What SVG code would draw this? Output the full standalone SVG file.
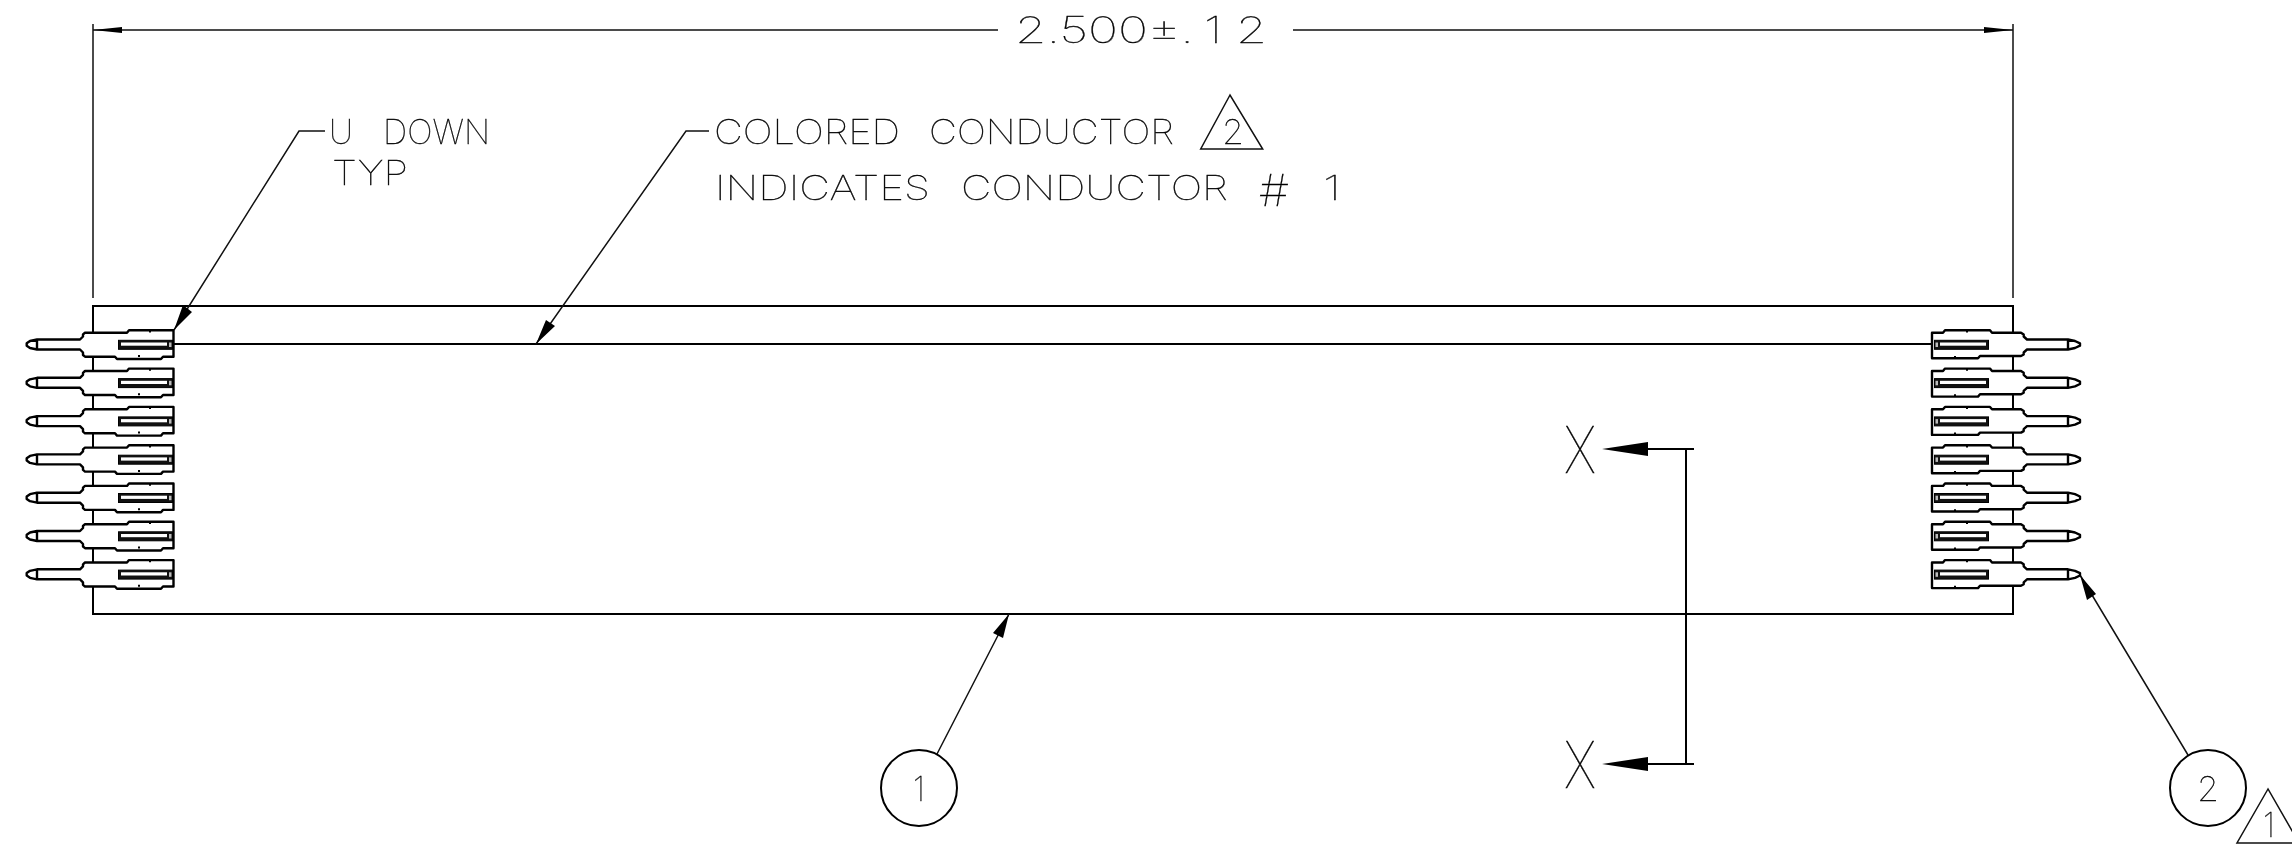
<svg xmlns="http://www.w3.org/2000/svg" xmlns:xlink="http://www.w3.org/1999/xlink" width="2292" height="845" viewBox="0 0 2292 845">
<style>
.l{fill:none;stroke:#000;stroke-width:2}
.t{fill:none;stroke:#111;stroke-width:1.5}
.b{fill:#fff;stroke:#000;stroke-width:2.4;stroke-linejoin:round}
.h{fill:#000;stroke:none}
text{font-family:"Inter","Liberation Sans",sans-serif;font-weight:100;fill:#000;stroke:#000;stroke-width:.3;font-size:34px;filter:url(#gs)}
</style>
<defs>
<filter id="gs" x="-20%" y="-20%" width="140%" height="140%" color-interpolation-filters="sRGB"><feOffset dx="0" dy="0"/></filter>
<g id="connL">
<path class="b" d="M37-5 30-3.5 26.7-1.2V1.2L30 3.5 37 5H80L83 8V10.5L85 12.2H115L117 14.5H161L163 12.2H173.5V-14.2H129L127-11.8H85L83-10V-8L80-5ZM37-5V5"/>
<path class="l" d="M150-14V-12M139 12.5V10.5"/>
<rect x="118.5" y="-4.2" width="54" height="9" fill="#111" stroke="#000"/>
<rect x="121" y="-2" width="46" height="3.2" fill="#fff"/>
<rect x="169" y="-2" width="2.5" height="4.5" fill="#bbb"/>
</g>
<g id="connR">
<path class="b" d="M2068-5 2075-3.5 2080-1.2V1.2L2075 3.5 2068 5H2027L2023.7 8V10L2021 11.5H1980L1978 13.8H1932V-11.8H1943L1945-14.2H1990L1992-11.8H2021L2023.7-10V-8L2027-5ZM2068-5V5"/>
<path class="l" d="M1967-14V-12M1955 13.5V11.5"/>
<rect x="1934.5" y="-4.2" width="54" height="9" fill="#111" stroke="#000"/>
<rect x="1940" y="-2" width="46" height="3.2" fill="#fff"/>
<rect x="1935.5" y="-2" width="2.5" height="4.5" fill="#bbb"/>
</g>
</defs>
<g id="connectors">
<path class="t" d="M93 24V298M2013 24V298M93 30H998M1293 30H2013"/>
<path class="h" d="M93 30 122 27V33ZM2013 30 1984 27V33Z"/>
<path class="l" d="M93 614V306H2013V614ZM174 344H1932"/>
<path class="t" d="M174 330 299 131H325M536 344 686 131H709"/>
<path class="h" d="M174 330 183 305 192 312ZM536 344 546 320 555 326Z"/>
<path class="t" d="M1009 614 937 754M2080 575 2188 755"/>
<path class="h" d="M1009 614 1003 638 993 633ZM2080 575 2096 594 2087 600Z"/>
<path class="l" d="M1694 449H1648M1694 764H1648M1686 449V764"/>
<path class="h" d="M1602 449 1648 442V456ZM1602 764 1648 757V771Z"/>
</g>
<g id="connectors-left">
<use id="c1" xlink:href="#connL" href="#connL" y="344.5"/>
<use id="c2" xlink:href="#connL" href="#connL" y="382.8"/>
<use id="c3" xlink:href="#connL" href="#connL" y="421.1"/>
<use id="c4" xlink:href="#connL" href="#connL" y="459.4"/>
<use id="c5" xlink:href="#connL" href="#connL" y="497.7"/>
<use id="c6" xlink:href="#connL" href="#connL" y="536"/>
<use id="c7" xlink:href="#connL" href="#connL" y="574.3"/>
</g>
<g id="connectors-right">
<use id="r1" xlink:href="#connR" href="#connR" y="344.5"/>
<use id="r2" xlink:href="#connR" href="#connR" y="382.8"/>
<use id="r3" xlink:href="#connR" href="#connR" y="421.1"/>
<use id="r4" xlink:href="#connR" href="#connR" y="459.4"/>
<use id="r5" xlink:href="#connR" href="#connR" y="497.7"/>
<use id="r6" xlink:href="#connR" href="#connR" y="536"/>
<use id="r7" xlink:href="#connR" href="#connR" y="574.3"/>
</g>
<g id="dimension">
<text x="1015" y="43" textLength="179" lengthAdjust="spacingAndGlyphs" style="font-size:36px">2.500±.</text>
<text x="1204" y="43" textLength="18" lengthAdjust="spacingAndGlyphs" style="font-size:36px">1</text>
<text x="1236" y="43" textLength="31" lengthAdjust="spacingAndGlyphs" style="font-size:36px">2</text>
</g>
<g id="note-u">
<text x="329" y="144" textLength="24" lengthAdjust="spacingAndGlyphs">U</text>
<text x="383" y="144" textLength="107" lengthAdjust="spacingAndGlyphs">DOWN</text>
<text x="332" y="185" textLength="76" lengthAdjust="spacingAndGlyphs">TYP</text>
</g>
<g id="note-colored">
<text x="714" y="144" textLength="186" lengthAdjust="spacingAndGlyphs">COLORED</text>
<text x="929" y="144" textLength="245" lengthAdjust="spacingAndGlyphs">CONDUCTOR</text>
<text x="715" y="200" textLength="215" lengthAdjust="spacingAndGlyphs">INDICATES</text>
<text x="961" y="200" textLength="267" lengthAdjust="spacingAndGlyphs">CONDUCTOR</text>
<text x="1259" y="206" textLength="30" lengthAdjust="spacingAndGlyphs" style="font-size:44px">#</text>
<text x="1323" y="200" textLength="18" lengthAdjust="spacingAndGlyphs">1</text>
</g>
<g id="tri-2"><path class="t" d="M1230 95 1200.7 149H1262.7Z"/><text x="1222" y="144" textLength="22" lengthAdjust="spacingAndGlyphs">2</text></g>
<g id="x-top"><text x="1564" y="473" textLength="32" lengthAdjust="spacingAndGlyphs" style="font-size:65px">X</text></g>
<g id="x-bottom"><text x="1564" y="788" textLength="32" lengthAdjust="spacingAndGlyphs" style="font-size:65px">X</text></g>
<g id="balloon-1"><circle class="l" cx="919" cy="788" r="38"/><text x="913" y="801" textLength="12" lengthAdjust="spacingAndGlyphs">1</text></g>
<g id="balloon-2"><circle class="l" cx="2208" cy="788" r="38"/><text x="2197" y="801" textLength="22" lengthAdjust="spacingAndGlyphs">2</text></g>
<g id="tri-1"><path class="t" d="M2268 789 2237 843H2299Z"/><text x="2263" y="837" textLength="12" lengthAdjust="spacingAndGlyphs">1</text></g>
</svg>
